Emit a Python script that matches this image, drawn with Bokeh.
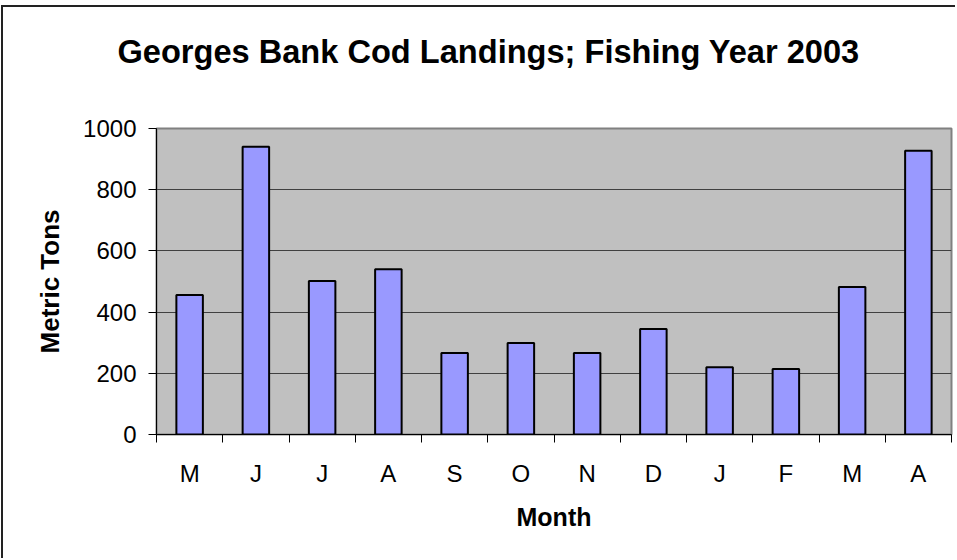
from bokeh.plotting import figure
from bokeh.models import ColumnDataSource, FixedTicker, Range1d, Title
from bokeh.embed import file_html
from bokeh.resources import INLINE

# ---- data ----
months = ["M", "J", "J", "A", "S", "O", "N", "D", "J", "F", "M", "A"]
landings = [456, 940, 502, 540, 266, 299, 266, 345, 220, 214, 482, 927]
y_ticks = [0, 200, 400, 600, 800, 1000]
title_text = "Georges Bank Cod Landings; Fishing Year 2003"
x_label = "Month"
y_label = "Metric Tons"

FONT = "Liberation Sans"

idx = list(range(len(months)))
centers = [i + 0.5 for i in idx]
src = ColumnDataSource(dict(x=centers, top=landings, month=months))

# the canvas is shifted by 3px / 7px so that a CSS border can mimic the chart-area border
p = figure(width=954, height=553, output_backend="svg", toolbar_location=None,
           x_range=Range1d(0, len(months)), y_range=Range1d(y_ticks[0], y_ticks[-1]),
           min_border_left=153, min_border_right=6, min_border_top=121, min_border_bottom=126,
           background_fill_color="#C0C0C0", border_fill_color="white")
p.styles = {"margin-left": "1px", "margin-top": "5px",
            "border-left": "2px solid #222222", "border-top": "2px solid #222222"}

p.vbar(x="x", top="top", bottom=0, width=0.4, source=src,
       fill_color="#9999FF", line_color="black", line_width=2)

# main title (outermost in the 'above' panel)
p.title.text = title_text
p.title.text_font = FONT
p.title.text_font_size = "32.6px"
p.title.text_font_style = "bold"
p.title.text_color = "black"
p.title.align = "left"
p.title.offset = -39
p.title.standoff = 0

# spacer between the title and the plot area
p.add_layout(Title(text=" ", text_font_size="1px", standoff=56), "above")

# frame
p.outline_line_color = "#808080"
p.outline_line_width = 2

# grid
p.xgrid.visible = False
p.ygrid.ticker = FixedTicker(ticks=y_ticks)
p.ygrid.grid_line_color = "#404040"
p.ygrid.grid_line_width = 1.2

# y axis
ya = p.yaxis[0]
ya.ticker = FixedTicker(ticks=y_ticks)
ya.major_label_text_font = FONT
ya.major_label_text_font_size = "24px"
ya.major_label_text_color = "black"
ya.major_tick_out = 8
ya.major_tick_in = 0
ya.minor_tick_out = 0
ya.minor_tick_in = 0
ya.major_label_standoff = 12
ya.axis_line_color = "black"
ya.major_tick_line_color = "black"
ya.axis_label = y_label
ya.axis_label_text_font = FONT
ya.axis_label_text_font_size = "26px"
ya.axis_label_text_font_style = "bold"
ya.axis_label_text_color = "black"
ya.axis_label_standoff = 15

# x axis: labels at category centres, ticks at category boundaries
xa = p.xaxis[0]
xa.ticker = FixedTicker(ticks=centers, minor_ticks=[float(i) for i in range(len(months) + 1)])
xa.major_label_overrides = {c: m for c, m in zip(centers, months)}
xa.major_label_text_font = FONT
xa.major_label_text_font_size = "24px"
xa.major_label_text_color = "black"
xa.major_tick_out = 0
xa.major_tick_in = 0
xa.major_tick_line_color = None
xa.minor_tick_out = 8
xa.minor_tick_in = 0
xa.minor_tick_line_color = "black"
xa.major_label_standoff = 17
xa.axis_line_color = "black"
xa.axis_label = x_label
xa.axis_label_text_font = FONT
xa.axis_label_text_font_size = "25px"
xa.axis_label_text_font_style = "bold"
xa.axis_label_text_color = "black"
xa.axis_label_standoff = 13

open("out.html", "w").write(file_html(p, INLINE))
